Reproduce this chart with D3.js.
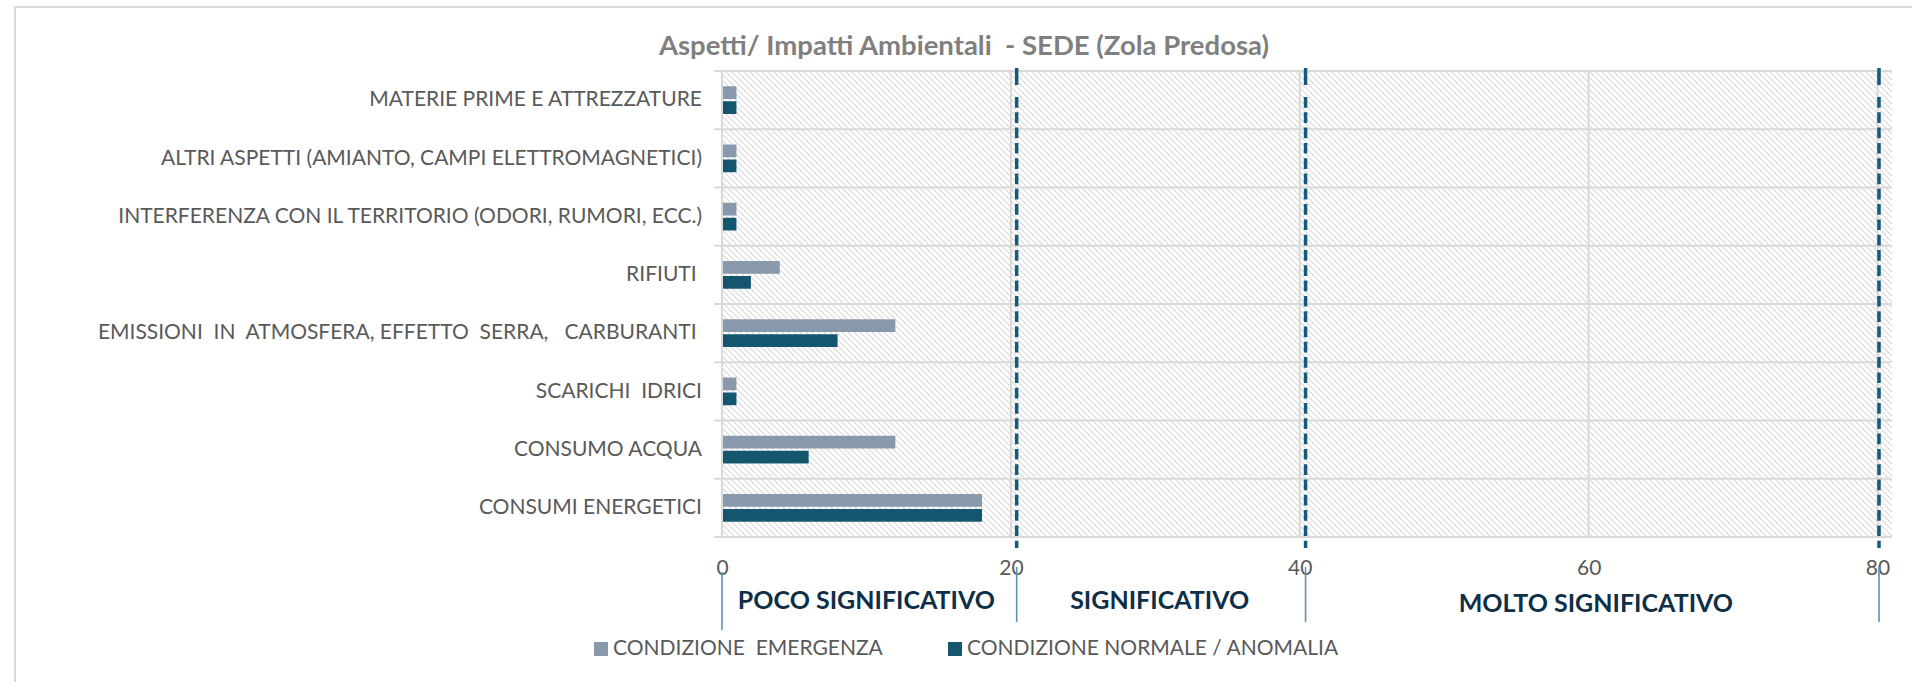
<!DOCTYPE html>
<html>
<head>
<meta charset="utf-8">
<script src="https://cdnjs.cloudflare.com/ajax/libs/d3/7.8.5/d3.min.js"></script>
<style>
	body { margin: 0; background: #fff; }
	svg { display: block; }
	text { font-family: Lato, "Open Sans", sans-serif; white-space: pre; }
</style>
</head>
<body>
<script>
// dati
var categorie = [
	"MATERIE PRIME E ATTREZZATURE",
	"ALTRI ASPETTI (AMIANTO, CAMPI ELETTROMAGNETICI)",
	"INTERFERENZA CON IL TERRITORIO (ODORI, RUMORI, ECC.)",
	"RIFIUTI ",
	"EMISSIONI  IN  ATMOSFERA, EFFETTO  SERRA,   CARBURANTI ",
	"SCARICHI  IDRICI",
	"CONSUMO ACQUA",
	"CONSUMI ENERGETICI"
];
var emergenza = [1, 1, 1, 4, 12, 1, 12, 18];
var normale = [1, 1, 1, 2, 8, 1, 6, 18];
var serie = ["CONDIZIONE  EMERGENZA", "CONDIZIONE NORMALE / ANOMALIA"];
var tickValues = [0, 20, 40, 60, 80];
var soglie = [20.4, 40.4, 80.1];
var separatori = [0, 20.4, 40.4, 80.1];
var fasce = ["POCO SIGNIFICATIVO", "SIGNIFICATIVO", "MOLTO SIGNIFICATIVO"];
var fasceCentro = [10, 30.3, 60.5];

var W = 1912, H = 682;
var colori = ["#8799aa", "#15566f"];

var svg = d3.select("body").append("svg")
	.attr("width", W)
	.attr("height", H);

// pattern a righe diagonali per lo sfondo
var defs = svg.append("defs");
var pat = defs.append("pattern")
	.attr("id", "hatch")
	.attr("patternUnits", "userSpaceOnUse")
	.attr("width", 6)
	.attr("height", 6);
pat.append("rect").attr("width", 6).attr("height", 6).attr("fill", "#fff");
pat.append("path")
	.attr("d", "M-1,-1 L7,7 M-1,5 L1,7 M5,-1 L7,1")
	.attr("stroke", "#d9d9d9")
	.attr("stroke-width", 1.2);

// bordo del grafico
svg.append("rect")
	.attr("x", 15).attr("y", 7)
	.attr("width", W).attr("height", H)
	.attr("fill", "none")
	.attr("stroke", "#d9d9d9")
	.attr("stroke-width", 2);

var x = d3.scaleLinear().domain([0, 81]).range([722, 1892]);
var y = d3.scaleBand().domain(categorie).range([71, 537]);
var ySub = d3.scaleBand().domain(serie)
	.range([-13.85, 13.85])
	.paddingInner(0.15);

// area del grafico
svg.append("rect")
	.attr("x", x(0)).attr("y", 71)
	.attr("width", x(81) - x(0)).attr("height", 537 - 71)
	.attr("fill", "url(#hatch)");

// griglia verticale
svg.selectAll(".vgrid")
	.data(tickValues)
	.enter().append("line")
	.attr("class", "vgrid")
	.attr("x1", function (d) { return x(d); })
	.attr("x2", function (d) { return x(d); })
	.attr("y1", 71).attr("y2", 537)
	.attr("stroke", "#d9d9d9")
	.attr("stroke-width", 2);

// separatori orizzontali tra categorie
var bordi = categorie.map(function (c) { return y(c); }).concat([537]);
svg.selectAll(".hgrid")
	.data(bordi)
	.enter().append("line")
	.attr("class", "hgrid")
	.attr("x1", 714).attr("x2", x(81))
	.attr("y1", function (d) { return d; })
	.attr("y2", function (d) { return d; })
	.attr("stroke", "#d9d9d9")
	.attr("stroke-width", 2);

// barre
var gruppi = svg.selectAll(".cat")
	.data(categorie)
	.enter().append("g")
	.attr("class", "cat")
	.attr("transform", function (d) { return "translate(0," + (y(d) + y.bandwidth() / 2) + ")"; });

gruppi.append("rect")
	.attr("x", x(0) + 1)
	.attr("y", ySub(serie[0]))
	.attr("width", function (d, i) { return x(emergenza[i]) - x(0) - 1; })
	.attr("height", ySub.bandwidth())
	.attr("fill", colori[0]);

gruppi.append("rect")
	.attr("x", x(0) + 1)
	.attr("y", ySub(serie[1]))
	.attr("width", function (d, i) { return x(normale[i]) - x(0) - 1; })
	.attr("height", ySub.bandwidth())
	.attr("fill", colori[1]);

// linee tratteggiate delle soglie
svg.selectAll(".soglia-top")
	.data(soglie)
	.enter().append("line")
	.attr("x1", function (d) { return x(d); })
	.attr("x2", function (d) { return x(d); })
	.attr("y1", 68).attr("y2", 85)
	.attr("stroke", "#155a7c")
	.attr("stroke-width", 3.5);
svg.selectAll(".soglia")
	.data(soglie)
	.enter().append("line")
	.attr("x1", function (d) { return x(d); })
	.attr("x2", function (d) { return x(d); })
	.attr("y1", 97).attr("y2", 548)
	.attr("stroke", "#155a7c")
	.attr("stroke-width", 3.5)
	.attr("stroke-dasharray", "10.7,4.6");

// asse categorie
var yAxis = svg.append("g")
	.attr("transform", "translate(" + x(0) + ",0)")
	.call(d3.axisLeft(y).tickSize(0).tickPadding(20));
yAxis.select(".domain").remove();
yAxis.selectAll("text")
	.attr("fill", "#595959")
	.attr("font-size", "21px")
	.attr("font-family", "Lato, sans-serif")
	.attr("dy", "0.3em");

// asse valori
var xAxis = svg.append("g")
	.attr("transform", "translate(0,537)")
	.call(d3.axisBottom(x).tickValues(tickValues).tickSize(0).tickPadding(23));
xAxis.select(".domain").remove();
xAxis.selectAll("text")
	.attr("fill", "#595959")
	.attr("font-size", "21px")
	.attr("font-family", "Lato, sans-serif");

// linee verticali sotto l'asse
svg.selectAll(".sep")
	.data(separatori)
	.enter().append("line")
	.attr("x1", function (d) { return x(d); })
	.attr("x2", function (d) { return x(d); })
	.attr("y1", function (d, i) { return i == 0 ? 572 : 567; })
	.attr("y2", function (d, i) { return i == 0 ? 630 : 622; })
	.attr("stroke", "#5e93ad")
	.attr("stroke-width", 1.6);

// etichette delle fasce
svg.selectAll(".fascia")
	.data(fasce)
	.enter().append("text")
	.attr("x", function (d, i) { return x(fasceCentro[i]); })
	.attr("y", function (d, i) { return i == 2 ? 612 : 609; })
	.attr("text-anchor", "middle")
	.attr("font-size", "25px")
	.attr("font-weight", "bold")
	.attr("fill", "#0e2f47")
	.text(function (d) { return d; });

// titolo
svg.append("text")
	.attr("x", 964).attr("y", 55)
	.attr("text-anchor", "middle")
	.attr("font-size", "27.5px")
	.attr("font-weight", "bold")
	.attr("fill", "#7f7f7f")
	.text("Aspetti/ Impatti Ambientali  - SEDE (Zola Predosa)");

// legenda
var legX = [594, 948];
var leg = svg.selectAll(".leg")
	.data(serie)
	.enter().append("g")
	.attr("transform", function (d, i) { return "translate(" + legX[i] + ",642)"; });
leg.append("rect")
	.attr("width", 14).attr("height", 14)
	.attr("fill", function (d, i) { return colori[i]; });
leg.append("text")
	.attr("x", 19).attr("y", 13)
	.attr("font-size", "21px")
	.attr("fill", "#595959")
	.text(function (d) { return d; });
</script>
</body>
</html>
